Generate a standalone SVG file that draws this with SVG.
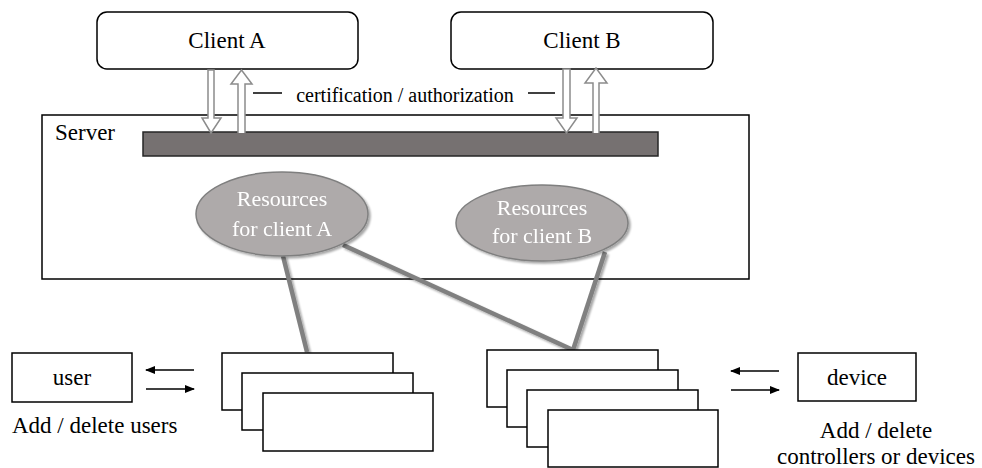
<svg xmlns="http://www.w3.org/2000/svg" width="982" height="468" viewBox="0 0 982 468" font-family="'Liberation Serif', 'Times New Roman', Tinos, 'DejaVu Serif', serif">
  <defs>
    <marker id="tip" viewBox="0 0 10 10" refX="9" refY="5" markerWidth="10" markerHeight="10" markerUnits="userSpaceOnUse" orient="auto">
      <path d="M0,1 L10,5 L0,9 Z" fill="#000"/>
    </marker>
    <filter id="shadow" x="-20%" y="-20%" width="140%" height="140%">
      <feGaussianBlur in="SourceAlpha" stdDeviation="1.2"/>
      <feOffset dx="1.5" dy="1.5" result="b"/>
      <feComponentTransfer><feFuncA type="linear" slope="0.35"/></feComponentTransfer>
      <feMerge><feMergeNode/><feMergeNode in="SourceGraphic"/></feMerge>
    </filter>
  </defs>
  <style>
    text { font-family: "Liberation Serif", "Times New Roman", Tinos, "DejaVu Serif", serif; fill: #000; }
    .lbl { font-size: 23px; }
    .mid { text-anchor: middle; }
    .box { fill: #fff; stroke: #000; stroke-width: 1.5; }
    .res { fill: #aeaaaa; stroke: #7f7f7f; stroke-width: 1.5; }
    .res-t { font-size: 22px; fill: #fff; text-anchor: middle; }
    .hollow { fill: #fff; stroke: #8c8c8c; stroke-width: 1.5; stroke-linejoin: miter; }
    .link { stroke: #808080; stroke-width: 4.5; fill: none; }
    .flow { stroke: #000; stroke-width: 1.5; fill: none; marker-end: url(#tip); }
  </style>

  <rect width="982" height="468" fill="#fff"/>

  <!-- server -->
  <g id="server">
    <rect class="box" x="42" y="115" width="707" height="164"/>
    <text class="lbl" x="55" y="140">Server</text>
    <rect x="143" y="132" width="515" height="24" fill="#767171" stroke="#262626" stroke-width="1.5"/>
  </g>

  <!-- clients -->
  <g id="client-a">
    <rect class="box" x="97" y="12" width="261" height="57" rx="10"/>
    <text class="lbl mid" x="227" y="48">Client A</text>
  </g>
  <g id="client-b">
    <rect class="box" x="451" y="12" width="262" height="57" rx="10"/>
    <text class="lbl mid" x="582" y="48">Client B</text>
  </g>

  <!-- certification / authorization exchange -->
  <g id="auth">
    <path class="hollow" d="M208,70 H214 V118 H221 L211,133 L202,118 H208 Z"/>
    <path class="hollow" d="M238,133 V84 H231 L241.5,70 L252,84 H245 V133"/>
    <path class="hollow" d="M563,69 H570 V118 H577 L566.5,133 L556,118 H563 Z"/>
    <path class="hollow" d="M593,133 V83 H585 L596,68 L607,83 H599 V133"/>
    <line x1="253" y1="93" x2="282" y2="93" stroke="#000" stroke-width="1.5"/>
    <line x1="528" y1="93" x2="555" y2="93" stroke="#000" stroke-width="1.5"/>
    <text x="405" y="102" font-size="20" text-anchor="middle">certification / authorization</text>
  </g>

  <!-- connectors -->
  <g id="connectors" filter="url(#shadow)">
    <line class="link" x1="283" y1="256" x2="307" y2="352"/>
    <line class="link" x1="343" y1="245" x2="573" y2="350"/>
    <line class="link" x1="605" y1="252" x2="573" y2="350"/>
  </g>

  <!-- resource pools -->
  <g id="resources-a" filter="url(#shadow)">
    <ellipse class="res" cx="282" cy="214" rx="86" ry="42"/>
    <text class="res-t" x="282" y="206">Resources</text>
    <text class="res-t" x="282" y="236">for client A</text>
  </g>
  <g id="resources-b" filter="url(#shadow)">
    <ellipse class="res" cx="542" cy="223" rx="86" ry="38"/>
    <text class="res-t" x="542" y="215">Resources</text>
    <text class="res-t" x="542" y="243">for client B</text>
  </g>

  <!-- user-side stack -->
  <g id="stack-a">
    <rect class="box" x="222" y="353" width="171" height="57"/>
    <rect class="box" x="242" y="373" width="171" height="57"/>
    <rect class="box" x="263" y="393" width="170" height="58"/>
  </g>

  <!-- device-side stack -->
  <g id="stack-b">
    <rect class="box" x="487" y="350" width="171" height="57"/>
    <rect class="box" x="507" y="370" width="171" height="57"/>
    <rect class="box" x="527" y="390" width="171" height="57"/>
    <rect class="box" x="548" y="410" width="170" height="57"/>
  </g>

  <!-- user -->
  <g id="user">
    <rect class="box" x="12" y="353" width="120" height="49"/>
    <text class="lbl mid" x="72" y="385">user</text>
    <text class="lbl" x="12" y="433">Add / delete users</text>
  </g>
  <g id="user-flow">
    <line class="flow" x1="194" y1="370" x2="146" y2="370"/>
    <line class="flow" x1="146" y1="389" x2="194" y2="389"/>
  </g>

  <!-- device -->
  <g id="device">
    <rect class="box" x="798" y="353" width="118" height="48"/>
    <text class="lbl mid" x="857" y="385">device</text>
    <text class="lbl mid" x="876" y="438">Add / delete</text>
    <text class="lbl mid" x="876" y="464">controllers or devices</text>
  </g>
  <g id="device-flow">
    <line class="flow" x1="779" y1="371" x2="731" y2="371"/>
    <line class="flow" x1="731" y1="390" x2="779" y2="390"/>
  </g>
</svg>
